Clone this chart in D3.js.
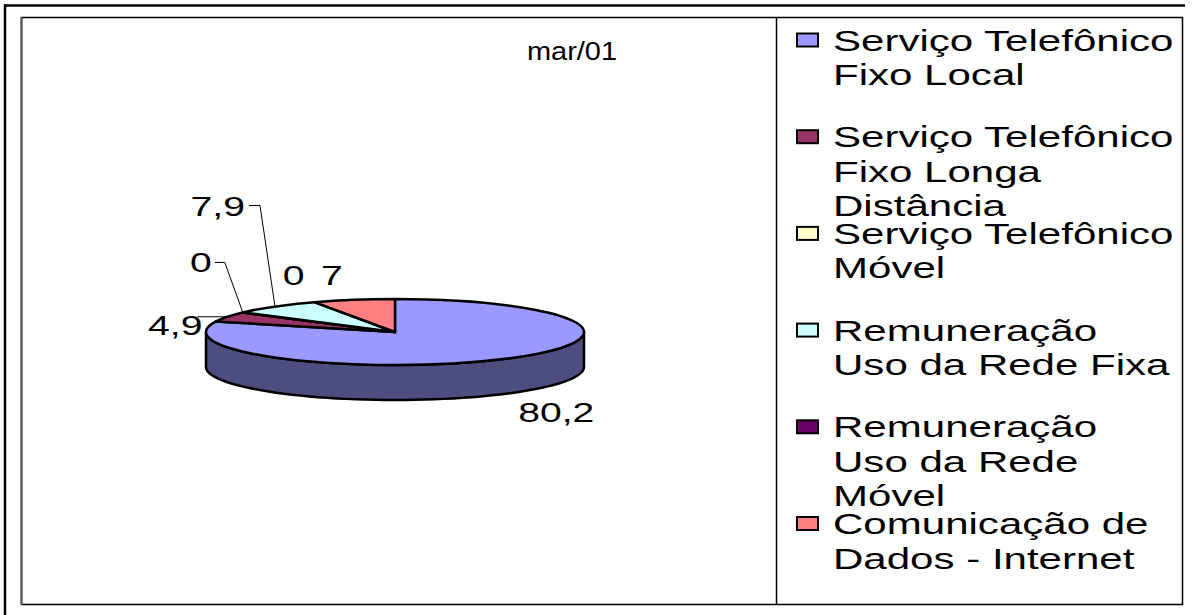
<!DOCTYPE html>
<html>
<head>
<meta charset="utf-8">
<script src="https://cdn.jsdelivr.net/npm/d3@7"></script>
<style>
html,body{margin:0;padding:0;background:#fff;}
svg{display:block;}
text{font-family:"Liberation Sans",Arial,sans-serif;fill:#000;}
</style>
</head>
<body>
<svg id="chart" width="1203" height="615"></svg>
<script>
// ---- data ----
const title = "mar/01";
const categories = [
  "Serviço Telefônico Fixo Local",
  "Serviço Telefônico Fixo Longa Distância",
  "Serviço Telefônico Móvel",
  "Remuneração Uso da Rede Fixa",
  "Remuneração Uso da Rede Móvel",
  "Comunicação de Dados - Internet"
];
const legendLines = [
  ["Serviço Telefônico", "Fixo Local"],
  ["Serviço Telefônico", "Fixo Longa", "Distância"],
  ["Serviço Telefônico", "Móvel"],
  ["Remuneração", "Uso da Rede Fixa"],
  ["Remuneração", "Uso da Rede", "Móvel"],
  ["Comunicação de", "Dados - Internet"]
];
const values = [80.2, 4.9, 0, 7.9, 0, 7];
const valueLabels = ["80,2", "4,9", "0", "7,9", "0", "7"];
const colors = ["#9999FF", "#993366", "#FFFFCC", "#CCFFFF", "#660066", "#FF8080"];

// ---- layout ----
const svg = d3.select("#chart");
const SX = 1.45;           // horizontal stretch of the original rendering
const cx = 395, cy = 332, rx = 189, ry = 33, depth = 35;

function stretchedText(g, x, y, str, size, anchor, sx) {
  return g.append("text")
    .attr("transform", `translate(${x},${y}) scale(${sx || SX},1)`)
    .attr("text-anchor", anchor || "start")
    .style("font-size", size + "px")
    .text(str);
}

// frame
svg.append("line").attr("x1", 4).attr("x2", 1185).attr("y1", 5.5).attr("y2", 5.5)
  .attr("stroke", "#000").attr("stroke-width", 2.5);
svg.append("line").attr("x1", 5).attr("x2", 5).attr("y1", 4.5).attr("y2", 615)
  .attr("stroke", "#000").attr("stroke-width", 2.5);
svg.append("rect").attr("x", 21.5).attr("y", 17.5).attr("width", 1161).attr("height", 587)
  .attr("fill", "none").attr("stroke", "#000").attr("stroke-width", 1.5);
svg.append("line").attr("x1", 21.5).attr("x2", 21.5).attr("y1", 17).attr("y2", 605)
  .attr("stroke", "#555").attr("stroke-width", 2);
svg.append("line").attr("x1", 776.5).attr("x2", 776.5).attr("y1", 17.5).attr("y2", 604.5)
  .attr("stroke", "#000").attr("stroke-width", 1.5);

// title
stretchedText(svg, 572, 60, title, 25, "middle", 1.16);

// ---- pie ----
const pie = d3.pie().sort(null).value(d => d)(values);
const P = (a, dy) => [cx + rx * Math.sin(a), cy - ry * Math.cos(a) + (dy || 0)];
const shade = c => { const h = d3.rgb(c); return d3.rgb(h.r * 0.5, h.g * 0.5, h.b * 0.5).toString(); };

const gPie = svg.append("g");
// side walls (front half: angles PI/2 .. 3PI/2)
pie.forEach((s, i) => {
  const a0 = Math.max(s.startAngle, Math.PI / 2), a1 = Math.min(s.endAngle, 3 * Math.PI / 2);
  if (a1 <= a0) return;
  const n = 60, pts = [];
  for (let k = 0; k <= n; k++) pts.push(P(a0 + (a1 - a0) * k / n));
  for (let k = n; k >= 0; k--) pts.push(P(a0 + (a1 - a0) * k / n, depth));
  gPie.append("path")
    .attr("d", d3.line()(pts) + "Z")
    .attr("fill", shade(colors[i]))
    .attr("stroke", "#000").attr("stroke-width", 2.5).attr("stroke-linejoin", "round");
});
// top faces
const arc = d3.arc().innerRadius(0).outerRadius(rx);
gPie.selectAll("path.top").data(pie).join("path")
  .attr("class", "top")
  .attr("transform", `translate(${cx},${cy}) scale(1,${ry / rx})`)
  .attr("d", arc)
  .attr("fill", (d, i) => colors[i])
  .attr("stroke", "#000").attr("stroke-width", 2.5)
  .attr("stroke-linejoin", "round")
  .style("vector-effect", "non-scaling-stroke");

// ---- data labels ----
// label placement relative to the rim point at each slice's mid angle
const labelPlace = [
  {dx: 13, dy: 63, anchor: "start", leader: null},
  {dx: -25, dy: 18, anchor: "end", leader: [[-4, 0], [-30, 0]]},
  {dx: -31, dy: -40, anchor: "end", leader: [[-18, -50], [-28, -50]]},
  {dx: -30, dy: -91, anchor: "end", leader: [[-15, -101], [-26, -101]]},
  {dx: -21, dy: -17, anchor: "middle", leader: null},
  {dx: -22, dy: -15, anchor: "middle", leader: null}
];
const gLab = svg.append("g");
pie.forEach((s, i) => {
  const m = (s.startAngle + s.endAngle) / 2;
  const [px, py] = P(m);
  const L = labelPlace[i];
  if (L.leader) {
    const pts = [[px, py]].concat(L.leader.map(o => [px + o[0], py + o[1]]));
    gLab.append("path").attr("d", d3.line()(pts)).attr("fill", "none")
      .attr("stroke", "#000").attr("stroke-width", 1);
  }
  stretchedText(gLab, px + L.dx, py + L.dy, valueLabels[i], 27, L.anchor);
});

// ---- legend ----
const gLeg = svg.append("g");
const legY0 = 50.5, legStep = 96.7, lineH = 34.5;
legendLines.forEach((lines, i) => {
  const y = legY0 + i * legStep;
  gLeg.append("rect").attr("x", 797).attr("y", y - 17).attr("width", 21).attr("height", 13)
    .attr("fill", colors[i]).attr("stroke", "#000").attr("stroke-width", 2);
  lines.forEach((t, j) => stretchedText(gLeg, 833, y + j * lineH, t, 29, "start"));
});
</script>
</body>
</html>
